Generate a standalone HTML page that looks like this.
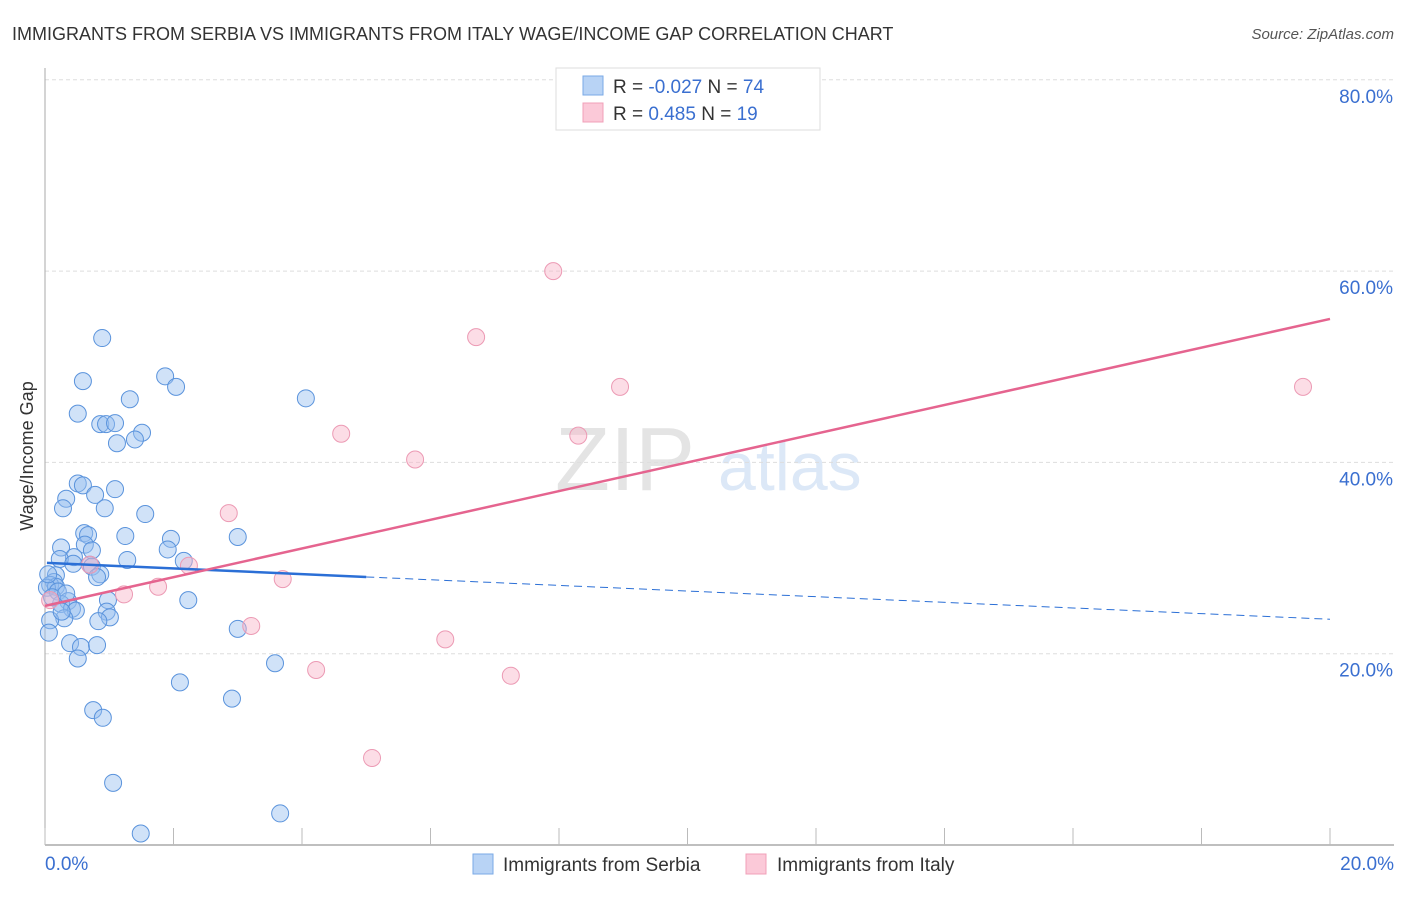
<!DOCTYPE html>
<html><head><meta charset="utf-8"><style>
body{margin:0;background:#fff;font-family:"Liberation Sans",sans-serif;}
svg text{font-family:"Liberation Sans",sans-serif;}
</style></head><body>
<svg id="chart" width="1406" height="892" xmlns="http://www.w3.org/2000/svg">
<text x="12" y="40" font-size="18" fill="#333">IMMIGRANTS FROM SERBIA VS IMMIGRANTS FROM ITALY WAGE/INCOME GAP CORRELATION CHART</text>
<text x="1394" y="39" font-size="15" fill="#555" font-style="italic" text-anchor="end">Source: ZipAtlas.com</text>
<text x="555" y="490" font-size="90" fill="#e4e4e4" font-family="Liberation Serif">ZIP</text>
<text x="718" y="490" font-size="68" fill="#dce8f7">atlas</text>
<g id="grid"></g>
<g id="axes"></g>
<g id="marks"></g>
<text transform="translate(33,456) rotate(-90)" font-size="18" fill="#333" text-anchor="middle">Wage/Income Gap</text>
<g>
<rect x="556" y="68" width="264" height="62" fill="#fff" stroke="#ddd"/>
<rect x="583" y="76" width="20" height="19" fill="#b8d3f5" stroke="#7aaae6"/>
<rect x="583" y="103" width="20" height="19" fill="#fbc9d8" stroke="#f0a0b8"/>
<text x="613" y="93" font-size="19" fill="#333">R = <tspan fill="#3a6fd0">-0.027</tspan>   N = <tspan fill="#3a6fd0">74</tspan></text>
<text x="613" y="120" font-size="19" fill="#333">R = <tspan fill="#3a6fd0"> 0.485</tspan>   N = <tspan fill="#3a6fd0">19</tspan></text>
</g>
<g>
<rect x="473" y="854" width="20" height="20" fill="#b8d3f5" stroke="#7aaae6"/>
<text x="503" y="871" font-size="19" fill="#333">Immigrants from Serbia</text>
<rect x="746" y="854" width="20" height="20" fill="#fbc9d8" stroke="#f0a0b8"/>
<text x="777" y="871" font-size="19" fill="#333">Immigrants from Italy</text>
</g>
</svg>
<script>
const yTicks=[20,40,60,80];
const yTickLabels=["20.0%","40.0%","60.0%","80.0%"];
const xTicks=[0,2,4,6,8,10,12,14,16,18,20];
const xTickLabels=["0.0%","20.0%"];
const serbiaX=[0.89,0.59,1.87,2.04,1.32,4.06,0.51,0.86,0.95,1.09,1.51,1.40,1.12,0.51,0.59,1.09,0.78,0.33,0.28,0.93,1.56,0.61,0.67,1.25,3.0,1.96,0.62,0.25,0.73,1.91,0.45,0.23,1.28,2.16,0.44,0.70,0.73,0.86,0.81,0.17,0.14,0.08,0.17,0.03,0.20,0.98,2.23,0.36,0.25,0.42,0.96,0.48,1.01,0.30,0.83,0.08,0.06,3.0,0.39,0.56,0.81,0.51,3.58,2.10,2.91,0.75,0.90,1.06,3.66,1.49,0.05,0.11,0.33,0.26];
const serbiaY=[53.0,48.5,49.0,47.9,46.6,46.7,45.1,44.0,44.0,44.1,43.1,42.4,42.0,37.8,37.6,37.2,36.6,36.2,35.2,35.2,34.6,32.6,32.4,32.3,32.2,32.0,31.4,31.1,30.8,30.9,30.1,29.9,29.8,29.7,29.4,29.3,29.1,28.3,28.0,28.2,27.5,27.2,27.0,26.9,26.5,25.6,25.6,25.5,25.2,24.7,24.4,24.5,23.8,23.7,23.4,23.5,22.2,22.6,21.1,20.7,20.9,19.5,19.0,17.0,15.3,14.1,13.3,6.5,3.3,1.2,28.3,25.9,26.3,24.4];
const italyX=[7.91,6.71,8.95,19.58,4.61,8.30,5.76,2.86,2.24,3.70,1.76,1.23,3.21,6.23,4.22,7.25,5.09,0.08,0.70];
const italyY=[60.0,53.1,47.9,47.9,43.0,42.8,40.3,34.7,29.2,27.8,27.0,26.2,22.9,21.5,18.3,17.7,9.1,25.6,29.3];
const serbiaTrend=[29.5,-0.295]; // intercept, slope
const serbiaSolidEnd=5.0;
const italyTrend=[25.0,1.5];
const NS="http://www.w3.org/2000/svg";
const sx=v=>45+v*64.25, sy=v=>845-v*9.565;
function mk(tag,attrs,parent){const e=document.createElementNS(NS,tag);for(const k in attrs)e.setAttribute(k,attrs[k]);document.getElementById(parent).appendChild(e);return e;}
yTicks.forEach((t,i)=>{
 const l=mk('line',{x1:45,x2:1394,y1:sy(t),y2:sy(t),stroke:'#ddd','stroke-dasharray':'4,3'},'grid');
 
 
 const tx=mk('text',{x:1393,y:sy(t)+23,'font-size':19,fill:'#3a6fd0','text-anchor':'end'},'grid');
 tx.textContent=yTickLabels[i];
 
 
});
let a=mk('line',{x1:45,x2:45,y1:68,y2:845,stroke:'#aaa'},'axes');


a=mk('line',{x1:45,x2:1394,y1:845,y2:845,stroke:'#aaa','stroke-width':1.5},'axes');


xTicks.forEach(t=>{const l=mk('line',{x1:sx(t),x2:sx(t),y1:828,y2:845,stroke:'#bbb'},'axes');
 
 });
[[0,'start',45],[20,'end',1394]].forEach((d,i)=>{const tx=mk('text',{x:d[2],y:870,'font-size':19,fill:'#3a6fd0','text-anchor':d[1]},'axes');tx.textContent=xTickLabels[i];
 
 });
serbiaX.forEach((x,i)=>{const c=mk('circle',{cx:sx(x),cy:sy(serbiaY[i]),r:8.5,fill:'rgba(150,190,240,0.45)',stroke:'#5a93dc','stroke-width':1},'marks');
 
 });
italyX.forEach((x,i)=>{const c=mk('circle',{cx:sx(x),cy:sy(italyY[i]),r:8.5,fill:'rgba(248,180,200,0.45)',stroke:'#ec9ab4','stroke-width':1},'marks');
 
 });
const f=(t,x)=>t[0]+t[1]*x;
let l=mk('line',{x1:sx(0.03),y1:sy(f(serbiaTrend,0.03)),x2:sx(serbiaSolidEnd),y2:sy(f(serbiaTrend,serbiaSolidEnd)),stroke:'#2b6fd6','stroke-width':2.5},'marks');


l=mk('line',{x1:sx(serbiaSolidEnd),y1:sy(f(serbiaTrend,serbiaSolidEnd)),x2:sx(20),y2:sy(f(serbiaTrend,20)),stroke:'#2b6fd6','stroke-width':1,'stroke-dasharray':'8,5'},'marks');


l=mk('line',{x1:sx(0),y1:sy(f(italyTrend,0)),x2:sx(20),y2:sy(f(italyTrend,20)),stroke:'#e5648f','stroke-width':2.5},'marks');


</script>
</body></html>
